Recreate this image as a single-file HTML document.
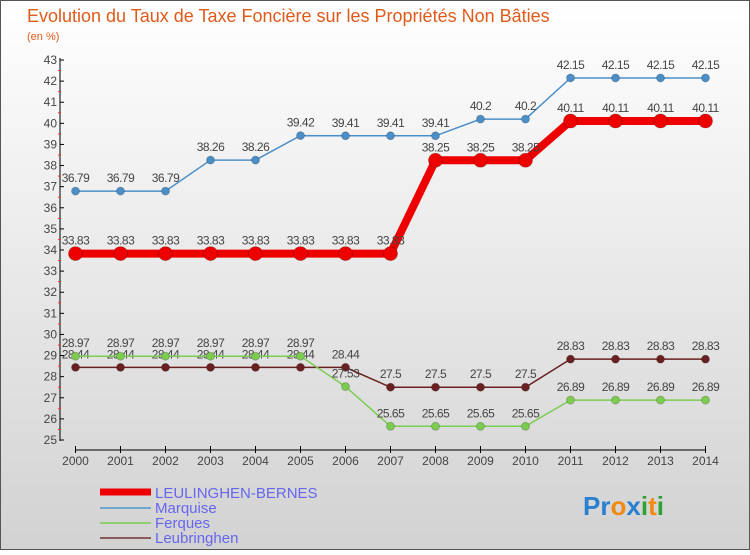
<!DOCTYPE html>
<html><head><meta charset="utf-8"><style>
body{margin:0;width:750px;height:550px;overflow:hidden;font-family:"Liberation Sans",sans-serif}
svg text{font-family:"Liberation Sans",sans-serif}
</style></head><body>
<svg width="750" height="550" xmlns="http://www.w3.org/2000/svg">
<defs><linearGradient id="bg" x1="0" y1="0" x2="0" y2="1"><stop offset="0" stop-color="#ffffff"/><stop offset="1" stop-color="#d2d2d2"/></linearGradient></defs>
<rect x="0.5" y="0.5" width="749" height="549" fill="url(#bg)" stroke="#555"/>
<text x="27" y="22" font-size="18" fill="#e05a1a">Evolution du Taux de Taxe Foncière sur les Propriétés Non Bâties</text>
<text x="27" y="40" font-size="11" fill="#e05a1a">(en %)</text>
<g id="axes"></g><g id="series"></g>
<g>
<line x1="100" y1="492" x2="151" y2="492" stroke="#ee0000" stroke-width="7"/>
<text x="155" y="498" font-size="15" fill="#6666ee">LEULINGHEN-BERNES</text>
<line x1="100" y1="508" x2="151" y2="508" stroke="#6fa6cc" stroke-width="2"/>
<text x="155" y="513" font-size="15" fill="#6666ee">Marquise</text>
<line x1="100" y1="523" x2="151" y2="523" stroke="#8ed070" stroke-width="2"/>
<text x="155" y="528" font-size="15" fill="#6666ee">Ferques</text>
<line x1="100" y1="538" x2="151" y2="538" stroke="#8a5a5a" stroke-width="2"/>
<text x="155" y="543" font-size="15" fill="#6666ee">Leubringhen</text>
</g>
<g font-size="26" font-weight="bold">
<text x="583" y="515"><tspan fill="#2a7fd0">Pr</tspan><tspan fill="#f08a10">o</tspan><tspan fill="#2a7fd0">x</tspan><tspan fill="#30a030">i</tspan><tspan fill="#f08a10">t</tspan><tspan fill="#30a030">i</tspan></text>
</g>
</svg>
<script>
const years=[2000,2001,2002,2003,2004,2005,2006,2007,2008,2009,2010,2011,2012,2013,2014];
const leulinghen=[33.83,33.83,33.83,33.83,33.83,33.83,33.83,33.83,38.25,38.25,38.25,40.11,40.11,40.11,40.11];
const marquise=[36.79,36.79,36.79,38.26,38.26,39.42,39.41,39.41,39.41,40.2,40.2,42.15,42.15,42.15,42.15];
const ferques=[28.97,28.97,28.97,28.97,28.97,28.97,27.53,25.65,25.65,25.65,25.65,26.89,26.89,26.89,26.89];
const leubringhen=[28.44,28.44,28.44,28.44,28.44,28.44,28.44,27.5,27.5,27.5,27.5,28.83,28.83,28.83,28.83];
const yTicks=[25,26,27,28,29,30,31,32,33,34,35,36,37,38,39,40,41,42,43];
const NS='http://www.w3.org/2000/svg';
const x=i=>75.5+i*45;
const y=v=>440-(v-25)*(380/18);
function mk(t,a,p){const e=document.createElementNS(NS,t);for(const k in a)e.setAttribute(k,a[k]);p.appendChild(e);return e;}
const ax=document.getElementById('axes');
const yl=mk('line',{x1:60,y1:58,x2:60,y2:441,stroke:'#000'},ax);


yTicks.forEach(v=>{
 mk('line',{x1:60,y1:y(v),x2:64,y2:y(v),stroke:'#000'},ax);
 if(v<43)mk('line',{x1:58,y1:y(v+0.5),x2:61,y2:y(v+0.5),stroke:'#e33'},ax);
 const t=mk('text',{x:57,y:y(v)+4,'font-size':12,'text-anchor':'end',fill:'#444'},ax);t.textContent=v;
 
 
});
const xl=mk('line',{x1:75,y1:450,x2:706,y2:450,stroke:'#000'},ax);


years.forEach((yr,i)=>{
 mk('line',{x1:x(i),y1:446,x2:x(i),y2:453,stroke:'#000'},ax);
 const t=mk('text',{x:x(i),y:465,'font-size':12,'text-anchor':'middle',fill:'#444'},ax);t.textContent=yr;
 
 
});
const sg=document.getElementById('series');
function series(vals,color,w,r,name){
 const g=mk('g',{},sg);
 
 
 const pl=mk('polyline',{points:vals.map((v,i)=>x(i)+','+y(v)).join(' '),fill:'none',stroke:color,'stroke-width':w},g);
 
 
 vals.forEach((v,i)=>{
  const c=mk('circle',{cx:x(i),cy:y(v),r:r,fill:color,stroke:'rgba(0,0,0,0.2)'},g);
  
  
  const t=mk('text',{x:x(i),y:y(v)-9,'font-size':12,'text-anchor':'middle',fill:'#444','letter-spacing':'-0.5'},g);t.textContent=v;
  
  
 });
}
series(marquise,'#4b8fc8',1.5,4,'marquise');
series(leubringhen,'#6a2020',1.5,4,'leubringhen');
series(ferques,'#7ccc50',1.5,4,'ferques');
series(leulinghen,'#ee0000',8,7,'leulinghen');
</script>
</body></html>
